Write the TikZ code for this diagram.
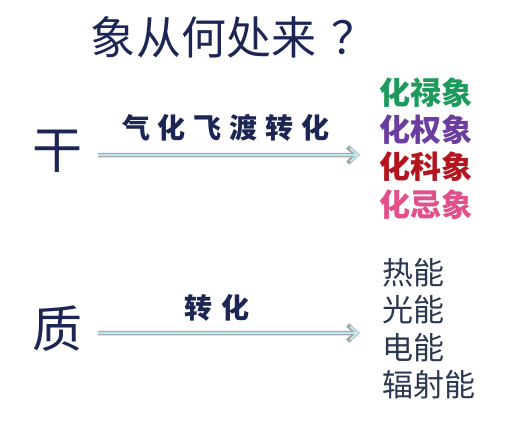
\documentclass[tikz,border=0pt]{standalone}
\usepackage{fontspec}
\newfontfamily\cjk{Noto Sans CJK SC}
\usetikzlibrary{positioning,arrows.meta}
\definecolor{XNavy}{HTML}{1C2553}
\definecolor{XSlate}{HTML}{2B3650}
\definecolor{XGreen}{HTML}{1E9A5C}
\definecolor{XPurple}{HTML}{6A3D9E}
\definecolor{XRed}{HTML}{B3141E}
\definecolor{XPink}{HTML}{E2508A}
\definecolor{XCyan}{HTML}{BDE8EE}

\begin{document}
\begin{tikzpicture}[x=1bp, y=-1bp,
  ttl/.style    = {font=\cjk\fontsize{45bp}{48bp}\selectfont, text=XNavy, inner sep=0pt},
  big/.style    = {font=\cjk\fontsize{50bp}{54bp}\selectfont, text=XNavy, inner sep=0pt},
  lbl/.style    = {font=\cjk\bfseries\fontsize{28bp}{30bp}\selectfont, text=XNavy, inner sep=0pt},
  xiang/.style  = {font=\cjk\bfseries\fontsize{31bp}{34bp}\selectfont, anchor=west, inner sep=0pt},
  neng/.style   = {font=\cjk\fontsize{31bp}{34bp}\selectfont, text=XSlate, anchor=west, inner sep=0pt},
  flowO/.style  = {draw=gray!70, line width=4.5bp, -{Straight Barb[length=9bp, width=16bp]}},
  flowI/.style  = {draw=XCyan, line width=2bp, -{Straight Barb[length=7.5bp, width=13bp]}}
]
\useasboundingbox (0,0) rectangle (507,431);

% Title
\node[ttl] (title) at (234, 37) {象从何处来\hspace{16bp}？};

% Left column
\node[big] (gan) at (57, 151) {干};
\node[big] (zhi) at (57, 329) {质};

% Upper targets
\node[xiang, text=XGreen]  (lu)   at (379, 93)  {化禄象};
\node[xiang, text=XPurple] (quan) at (379, 130) {化权象};
\node[xiang, text=XRed]    (ke)   at (379, 167) {化科象};
\node[xiang, text=XPink]   (ji)   at (379, 205) {化忌象};

% Lower targets
\node[neng] (re)   at (382, 273) {热能};
\node[neng] (guang)at (382, 310) {光能};
\node[neng] (dian) at (382, 348) {电能};
\node[neng] (fushe)at (382, 385) {辐射能};

% Arrows
\coordinate (gtip) at (360, 155);
\coordinate (ztip) at (360, 333);
\draw[flowO] ([xshift=16bp, yshift=-4bp]gan.east) -- (gtip);
\draw[flowI] ([xshift=16bp, yshift=-4bp]gan.east) -- ([xshift=-0.8bp]gtip);
\draw[flowO] ([xshift=16bp, yshift=-4bp]zhi.east) -- (ztip);
\draw[flowI] ([xshift=16bp, yshift=-4bp]zhi.east) -- ([xshift=-0.8bp]ztip);

% Arrow labels
\node[lbl] (qihua) at (226, 128) {气\hspace{8bp}化\hspace{8bp}飞\hspace{8bp}渡\hspace{8bp}转\hspace{8bp}化};
\node[lbl] (zhuan) at (217, 308) {转\hspace{9bp}化};
\end{tikzpicture}
\end{document}
